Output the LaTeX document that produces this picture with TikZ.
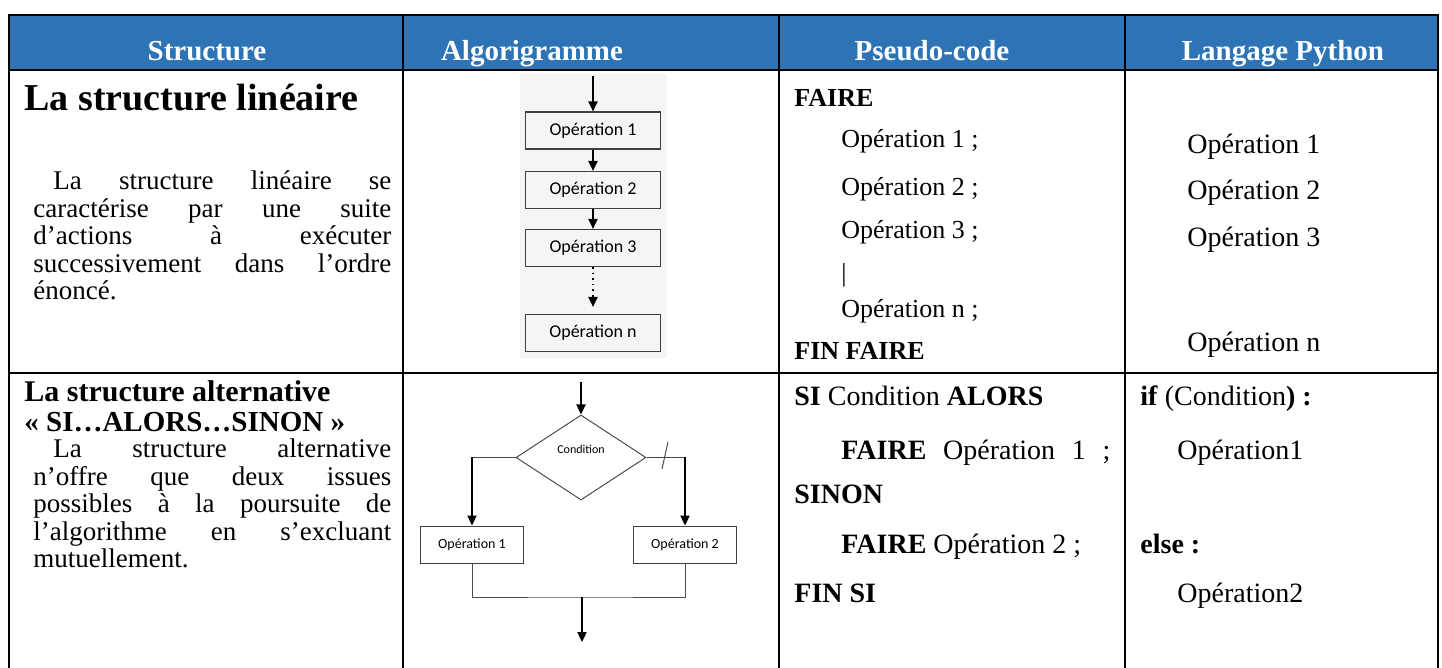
\documentclass[tikz,border=0pt]{standalone}
\usepackage{fontspec}
\setmainfont{Liberation Serif}
\newfontfamily\chartfont{Carlito}
\usetikzlibrary{arrows.meta,shapes.geometric,positioning}
\definecolor{headblue}{HTML}{2E74B5}
\tikzset{
    grid/.style={line width=1.4pt, draw=black},
    head/.style={anchor=base, inner sep=0pt, text=white, font=\fontsize{14.5}{17}\selectfont\bfseries},
    txt/.style={anchor=base west, inner sep=0pt},
    para/.style={anchor=base west, inner sep=0pt, align=justify, text width=179pt},
    opbox/.style={draw=black!75, line width=0.6pt, minimum width=67.5pt, minimum height=18.5pt, inner sep=0pt, font=\chartfont\fontsize{9}{10}\selectfont},
    smallbox/.style={draw=black!75, line width=0.5pt, minimum width=51.5pt, minimum height=18.5pt, inner sep=0pt, font=\chartfont\fontsize{7}{8}\selectfont},
    decision/.style={diamond, draw=black!70, line width=0.5pt, minimum width=65pt, minimum height=42.5pt, inner sep=0pt},
    flow/.style={-{Triangle[length=5pt,width=4.6pt]}, line width=0.8pt, draw=black},
    link/.style={line width=0.5pt, draw=black!70},
}

\begin{document}
\begin{tikzpicture}[x=0.5pt, y=-0.5pt]
    \useasboundingbox (0,0) rectangle (1442,668);

    % table
    \fill[headblue] (9,15) rectangle (1438,70);
    \draw[grid] (9,672) -- (9,15) -- (1438,15) -- (1438,672);
    \draw[grid] (9,70) -- (1438,70);
    \draw[grid] (9,373) -- (1438,373);
    \foreach \x in {403,779,1125}
        \draw[grid] (\x,15) -- (\x,672);

    \node[head] (hstruct) at (207,61) {Structure};
    \node[head] (halgo) at (532,61) {Algorigramme};
    \node[head] (hpseudo) at (932,61) {Pseudo-code};
    \node[head] (hpython) at (1283,61) {Langage Python};

    % structure lineaire
    \node[txt, font=\fontsize{19}{22}\selectfont\bfseries] (tlin) at (24,111) {La structure linéaire};
    \node[para, font=\fontsize{13.5}{13.75}\selectfont] (dlin) at (33,190)
        {\hspace*{10pt}La structure linéaire se\linebreak caractérise par une suite\linebreak d’actions à exécuter\linebreak successivement dans l’ordre\linebreak énoncé.};

    \fill[black!4] (520,74) rectangle (667,358);
    \coordinate (in1) at (593,76);
    \node[opbox] (op1) at (593,130.5) {Opération 1};
    \node[opbox] (op2) at (593,190) {Opération 2};
    \node[opbox] (op3) at (593,248) {Opération 3};
    \node[opbox] (opn) at (593,333) {Opération n};
    \draw[flow] (in1) -- (op1);
    \draw[flow] (op1) -- (op2);
    \draw[flow] (op2) -- (op3);
    \draw[flow, dotted, shorten >=3.5pt] (op3) -- (opn);

    \begin{scope}[font=\fontsize{13}{15}\selectfont]
        \node[txt] (pfaire) at (794,107) {\textbf{FAIRE}};
        \node[txt] (pop1) at (841,148) {Opération 1 ;};
        \node[txt] (pop2) at (841,196) {Opération 2 ;};
        \node[txt] (pop3) at (841,239) {Opération 3 ;};
        \node[txt] (pbar) at (841,282) {|};
        \node[txt] (popn) at (841,318) {Opération n ;};
        \node[txt] (pfin) at (794,360) {\textbf{FIN FAIRE}};
    \end{scope}
    \begin{scope}[font=\fontsize{14}{16}\selectfont]
        \node[txt] (yop1) at (1187,154) {Opération 1};
        \node[txt] (yop2) at (1187,200) {Opération 2};
        \node[txt] (yop3) at (1187,247) {Opération 3};
        \node[txt] (yopn) at (1187,352) {Opération n};
    \end{scope}

    % structure alternative
    \node[txt, font=\fontsize{15}{17}\selectfont\bfseries] (talt) at (24,402) {La structure alternative};
    \node[txt, font=\fontsize{14.5}{16}\selectfont\bfseries] (talt2) at (24,432) {«~SI…ALORS…SINON~»};
    \node[para, font=\fontsize{13.5}{13.7}\selectfont] (dalt) at (33,458)
        {\hspace*{10pt}La structure alternative\linebreak n’offre que deux issues\linebreak possibles à la poursuite de\linebreak l’algorithme en s’excluant\linebreak mutuellement.};

    \coordinate (in2) at (581,382);
    \node[decision] (cond) at (581,457.5) {};
    \node[inner sep=0pt, font=\chartfont\fontsize{6}{7}\selectfont] (condlbl) at (581,449) {Condition};
    \node[smallbox] (alt1) at (472,544.5) {Opération 1};
    \node[smallbox] (alt2) at (685,544.5) {Opération 2};
    \coordinate (cl) at (cond.west -| alt1);
    \coordinate (cr) at (cond.east -| alt2);
    \coordinate (merge) at (582,597);
    \coordinate (out2) at (582,642);
    \draw[flow] (in2) -- (cond.north);
    \draw[link] (cond.west) -- (cl);
    \draw[flow] (cl) -- (alt1.north);
    \draw[link] (cond.east) -- (cr);
    \draw[flow] (cr) -- (alt2.north);
    \draw[link] (662,469) -- (668,442);
    \draw[link] (alt1.south) |- (merge) -| (alt2.south);
    \draw[flow] (merge) -- (out2);

    \begin{scope}[font=\fontsize{14}{16}\selectfont]
        \node[txt] (psi) at (794,406) {\textbf{SI} Condition \textbf{ALORS}};
        \node[txt] (pthen) at (841,459) {\makebox[134.5pt][s]{\textbf{FAIRE} Opération 1 ;}};
        \node[txt] (psinon) at (794,503) {\textbf{SINON}};
        \node[txt] (pelse) at (841,553) {\textbf{FAIRE} Opération 2 ;};
        \node[txt] (pfinsi) at (794,602) {\textbf{FIN SI}};
        \node[txt] (yif) at (1140,406) {\textbf{if} (Condition\textbf{) :}};
        \node[txt] (yop) at (1177,459) {Opération1};
        \node[txt] (yelse) at (1140,553) {\textbf{else :}};
        \node[txt] (yop2b) at (1177,603) {Opération2};
    \end{scope}
\end{tikzpicture}
\end{document}
